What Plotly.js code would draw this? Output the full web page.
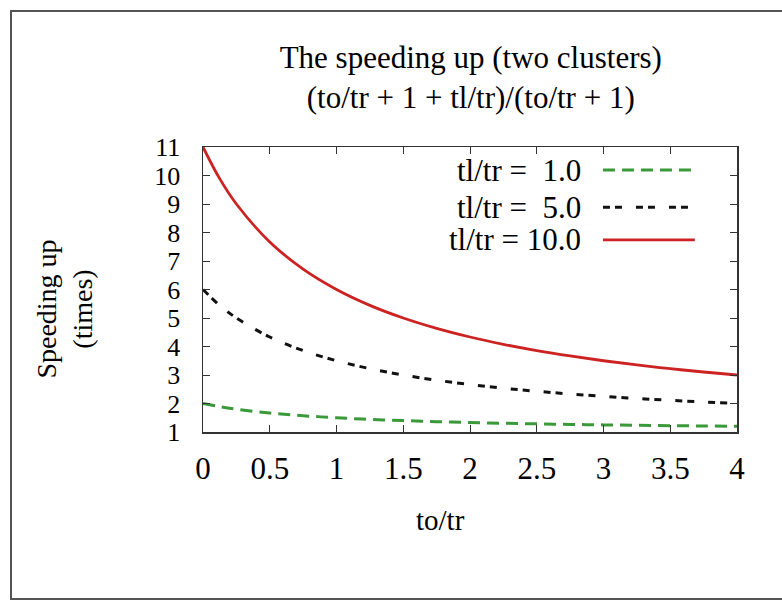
<!DOCTYPE html>
<html>
<head>
<meta charset="utf-8">
<script src="https://cdn.plot.ly/plotly-3.0.1.min.js"></script>
<style>
html,body{margin:0;padding:0;background:#fff;}
#frame{position:absolute;left:10px;top:10px;width:800px;height:586px;border-left:2px solid #555;border-top:2px solid #555;border-bottom:2px solid #555;}
#chart{position:absolute;left:0;top:0;width:782px;height:601px;}
</style>
</head>
<body>
<div id="frame"></div>
<div id="chart"></div>
<script>
var xValues = [0, 0.125, 0.25, 0.5, 0.75, 1, 1.25, 1.5, 1.75, 2, 2.25, 2.5, 2.75, 3, 3.25, 3.5, 3.75, 4];
var seriesNames = ['tl/tr =  1.0', 'tl/tr =  5.0', 'tl/tr = 10.0'];
var speedup1 = [2, 1.889, 1.8, 1.667, 1.571, 1.5, 1.444, 1.4, 1.364, 1.333, 1.308, 1.286, 1.267, 1.25, 1.235, 1.222, 1.211, 1.2];
var speedup5 = [6, 5.444, 5.0, 4.333, 3.857, 3.5, 3.222, 3.0, 2.818, 2.667, 2.538, 2.429, 2.333, 2.25, 2.176, 2.111, 2.053, 2.0];
var speedup10 = [11, 9.889, 9.0, 7.667, 6.714, 6.0, 5.444, 5.0, 4.636, 4.333, 4.077, 3.857, 3.667, 3.5, 3.353, 3.222, 3.105, 3.0];
var xTicks = [0, 0.5, 1, 1.5, 2, 2.5, 3, 3.5, 4];
var xTickLabels = ['0', '0.5', '1', '1.5', '2', '2.5', '3', '3.5', '4'];
var yTicks = [1, 2, 3, 4, 5, 6, 7, 8, 9, 10, 11];

var serif = 'Liberation Serif, Times New Roman, serif';
var colors = ['#3a9a3a', '#111111', '#cc2222'];
var dashes = ['12px,7px', '7px,5px,7px,14px', 'solid'];
var widths = [3, 3, 2.8];
var ys = [speedup1, speedup5, speedup10];

var traces = ys.map(function (y, i) {
  return {
    x: xValues, y: y, type: 'scatter', mode: 'lines', name: seriesNames[i],
    line: {color: colors[i], dash: dashes[i], width: widths[i], shape: 'spline', smoothing: 1},
    showlegend: false, hoverinfo: 'skip'
  };
});

var annotations = [];
var shapes = [];
var legendY = [0.919, 0.789, 0.674];
for (var i = 0; i < 3; i++) {
  annotations.push({
    xref: 'paper', yref: 'paper', x: 0.712, y: legendY[i], xanchor: 'right', yanchor: 'middle',
    text: seriesNames[i].replace(/ /g, '&nbsp;'), showarrow: false, font: {family: serif, size: 31, color: '#000'}
  });
  shapes.push({
    type: 'line', xref: 'paper', yref: 'paper', x0: 0.749, x1: 0.921, y0: legendY[i], y1: legendY[i],
    line: {color: colors[i], dash: dashes[i], width: widths[i]}
  });
}
annotations.push({
  xref: 'paper', yref: 'paper', x: -0.26, y: 0.43, xanchor: 'center', yanchor: 'middle',
  text: 'Speeding up<br>(times)', textangle: -90, showarrow: false,
  font: {family: serif, size: 28, color: '#000'}
});
annotations.push({
  xref: 'paper', yref: 'paper', x: 0.445, y: -0.31, xanchor: 'center', yanchor: 'middle',
  text: 'to/tr', showarrow: false, font: {family: serif, size: 29, color: '#000'}
});

var layout = {
  width: 782, height: 601,
  margin: {l: 203, r: 45, t: 147, b: 169},
  paper_bgcolor: 'rgba(0,0,0,0)', plot_bgcolor: 'rgba(0,0,0,0)',
  title: {
    text: 'The speeding up (two clusters)<br>(to/tr + 1 + tl/tr)/(to/tr + 1)',
    font: {family: serif, size: 31, color: '#000'},
    x: 0.602, xanchor: 'center', y: 0.887, yanchor: 'middle'
  },
  xaxis: {
    range: [0, 4], tickvals: xTicks, ticktext: xTickLabels,
    ticks: 'inside', ticklen: 7, tickcolor: '#333', mirror: 'allticks',
    showline: true, linecolor: '#333', linewidth: 1.5, showgrid: false, zeroline: false,
    tickfont: {family: serif, size: 31, color: '#000'}, ticklabelstandoff: 8
  },
  yaxis: {
    range: [1, 11], tickvals: yTicks,
    ticks: 'inside', ticklen: 7, tickcolor: '#333', mirror: 'allticks',
    showline: true, linecolor: '#333', linewidth: 1.5, showgrid: false, zeroline: false,
    tickfont: {family: serif, size: 26, color: '#000'}, ticklabelstandoff: 16
  },
  annotations: annotations,
  shapes: shapes
};

Plotly.newPlot('chart', traces, layout, {displayModeBar: false, staticPlot: true});
</script>
</body>
</html>
